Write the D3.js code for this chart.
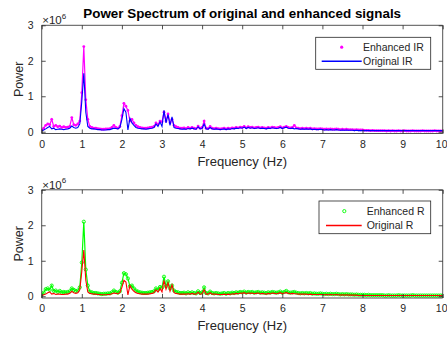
<!DOCTYPE html>
<html><head><meta charset="utf-8">
<script src="https://cdn.jsdelivr.net/npm/d3@7"></script>
<style>
body{margin:0;background:#fff}
svg{display:block;font-family:"Liberation Sans",Arial,sans-serif}
</style>
</head><body>
<script>
// Frequency grid (Hz), 0.05 Hz resolution from 0 to 10 Hz
const freq = d3.range(0, 201).map(i => +(i * 0.05).toFixed(2));

// Power values in units of 1e6
const enhancedIR = [
  0.05,0.10,0.18,0.22,0.20,0.35,0.15,0.18,0.14,0.16,
  0.12,0.14,0.12,0.13,0.15,0.40,0.20,0.18,0.22,0.30,
  1.10,2.40,0.90,0.35,0.15,0.12,0.10,0.10,0.09,0.08,
  0.07,0.07,0.08,0.08,0.09,0.12,0.18,0.12,0.10,0.15,
  0.45,0.80,0.72,0.60,0.30,0.35,0.25,0.18,0.14,0.12,
  0.11,0.10,0.10,0.11,0.12,0.13,0.15,0.25,0.20,0.30,
  0.28,0.55,0.30,0.50,0.25,0.35,0.18,0.14,0.12,0.10,
  0.10,0.11,0.09,0.12,0.10,0.12,0.10,0.09,0.16,0.10,
  0.12,0.30,0.10,0.09,0.15,0.10,0.09,0.10,0.09,0.08,
  0.09,0.10,0.08,0.10,0.09,0.11,0.10,0.12,0.11,0.13,
  0.12,0.15,0.11,0.14,0.12,0.13,0.11,0.12,0.13,0.11,
  0.12,0.11,0.10,0.12,0.11,0.13,0.12,0.11,0.12,0.14,
  0.11,0.13,0.15,0.12,0.11,0.12,0.18,0.11,0.10,0.09,
  0.10,0.09,0.10,0.09,0.10,0.08,0.09,0.08,0.08,0.09,
  0.08,0.07,0.08,0.07,0.08,0.07,0.07,0.08,0.07,0.06,
  0.07,0.06,0.07,0.06,0.06,0.06,0.05,0.06,0.05,0.05,
  0.05,0.04,0.04,0.04,0.03,0.04,0.03,0.03,0.03,0.03,
  0.03,0.03,0.02,0.03,0.02,0.03,0.02,0.02,0.03,0.02,
  0.02,0.03,0.02,0.02,0.02,0.03,0.02,0.02,0.02,0.02,
  0.03,0.02,0.02,0.02,0.02,0.02,0.03,0.02,0.02,0.02,
  0.02
];
const originalIR = [
  0.02,0.05,0.08,0.12,0.15,0.08,0.10,0.06,0.07,0.08,
  0.07,0.06,0.07,0.08,0.10,0.16,0.12,0.10,0.12,0.22,
  0.85,1.65,0.55,0.15,0.10,0.08,0.08,0.07,0.06,0.06,
  0.05,0.05,0.05,0.06,0.06,0.08,0.10,0.09,0.08,0.12,
  0.35,0.65,0.55,0.05,0.38,0.25,0.18,0.12,0.10,0.09,
  0.08,0.08,0.07,0.08,0.09,0.10,0.12,0.22,0.15,0.28,
  0.15,0.60,0.25,0.48,0.18,0.42,0.12,0.10,0.09,0.08,
  0.07,0.08,0.07,0.09,0.08,0.10,0.08,0.07,0.14,0.08,
  0.09,0.22,0.08,0.07,0.12,0.08,0.07,0.08,0.07,0.06,
  0.07,0.08,0.06,0.08,0.07,0.09,0.08,0.10,0.09,0.11,
  0.10,0.13,0.09,0.12,0.10,0.11,0.09,0.10,0.11,0.09,
  0.10,0.09,0.08,0.10,0.09,0.11,0.10,0.09,0.10,0.12,
  0.09,0.11,0.13,0.10,0.09,0.10,0.08,0.09,0.08,0.07,
  0.08,0.07,0.08,0.07,0.08,0.06,0.07,0.06,0.06,0.07,
  0.06,0.05,0.06,0.05,0.06,0.05,0.05,0.06,0.05,0.04,
  0.05,0.04,0.05,0.04,0.04,0.04,0.03,0.04,0.03,0.03,
  0.03,0.03,0.03,0.03,0.03,0.03,0.03,0.03,0.03,0.03,
  0.03,0.03,0.03,0.03,0.03,0.03,0.03,0.03,0.03,0.03,
  0.03,0.03,0.03,0.03,0.03,0.03,0.03,0.03,0.03,0.03,
  0.03,0.03,0.03,0.03,0.03,0.03,0.03,0.03,0.03,0.03,
  0.03
];
const enhancedR = [
  0.05,0.10,0.20,0.22,0.18,0.30,0.15,0.16,0.12,0.15,
  0.11,0.12,0.11,0.12,0.14,0.22,0.18,0.15,0.16,0.25,
  0.95,2.10,0.75,0.30,0.13,0.11,0.09,0.09,0.08,0.07,
  0.06,0.07,0.07,0.08,0.08,0.11,0.16,0.12,0.10,0.14,
  0.38,0.65,0.62,0.50,0.28,0.30,0.22,0.16,0.13,0.11,
  0.10,0.09,0.09,0.10,0.11,0.12,0.14,0.22,0.18,0.26,
  0.24,0.55,0.28,0.42,0.22,0.30,0.16,0.12,0.11,0.09,
  0.09,0.10,0.08,0.11,0.09,0.11,0.09,0.08,0.14,0.09,
  0.11,0.25,0.09,0.08,0.13,0.09,0.08,0.09,0.08,0.07,
  0.08,0.09,0.07,0.09,0.08,0.10,0.09,0.11,0.10,0.12,
  0.11,0.13,0.10,0.12,0.11,0.12,0.10,0.11,0.12,0.10,
  0.11,0.10,0.09,0.11,0.10,0.12,0.11,0.10,0.11,0.13,
  0.10,0.12,0.15,0.11,0.10,0.11,0.12,0.10,0.09,0.08,
  0.09,0.08,0.09,0.08,0.09,0.07,0.08,0.07,0.07,0.08,
  0.07,0.06,0.07,0.06,0.07,0.06,0.06,0.07,0.06,0.05,
  0.06,0.05,0.06,0.05,0.05,0.05,0.04,0.05,0.04,0.04,
  0.04,0.04,0.03,0.04,0.03,0.03,0.03,0.03,0.03,0.03,
  0.03,0.02,0.02,0.03,0.02,0.02,0.02,0.02,0.03,0.02,
  0.02,0.02,0.02,0.02,0.02,0.03,0.02,0.02,0.02,0.02,
  0.02,0.02,0.02,0.02,0.02,0.02,0.02,0.02,0.02,0.02,
  0.02
];
const originalR = [
  0.02,0.04,0.06,0.10,0.12,0.06,0.08,0.05,0.06,0.06,
  0.05,0.05,0.06,0.06,0.08,0.14,0.10,0.08,0.10,0.18,
  0.70,1.30,0.45,0.12,0.08,0.07,0.06,0.06,0.05,0.05,
  0.04,0.04,0.04,0.05,0.05,0.07,0.09,0.08,0.07,0.10,
  0.25,0.45,0.40,0.04,0.30,0.20,0.14,0.10,0.08,0.07,
  0.06,0.06,0.06,0.06,0.07,0.08,0.10,0.18,0.12,0.22,
  0.12,0.45,0.20,0.38,0.14,0.32,0.10,0.08,0.07,0.06,
  0.06,0.06,0.06,0.07,0.06,0.08,0.06,0.06,0.11,0.06,
  0.07,0.18,0.06,0.06,0.10,0.06,0.06,0.06,0.05,0.05,
  0.05,0.06,0.05,0.06,0.05,0.07,0.06,0.08,0.07,0.09,
  0.08,0.10,0.07,0.09,0.08,0.09,0.07,0.08,0.09,0.07,
  0.08,0.07,0.06,0.08,0.07,0.09,0.08,0.07,0.08,0.10,
  0.07,0.09,0.10,0.08,0.07,0.08,0.07,0.07,0.06,0.06,
  0.06,0.06,0.06,0.05,0.06,0.05,0.05,0.05,0.05,0.05,
  0.05,0.04,0.05,0.04,0.05,0.04,0.04,0.05,0.04,0.03,
  0.04,0.03,0.04,0.03,0.03,0.03,0.03,0.03,0.02,0.02,
  0.02,0.02,0.02,0.02,0.02,0.02,0.02,0.02,0.02,0.02,
  0.02,0.02,0.02,0.02,0.02,0.02,0.02,0.02,0.02,0.02,
  0.02,0.02,0.02,0.02,0.02,0.02,0.02,0.02,0.02,0.02,
  0.02,0.02,0.02,0.02,0.02,0.02,0.02,0.02,0.02,0.02,
  0.02
];

const xTicks = [0,1,2,3,4,5,6,7,8,9,10];
const yTicks = [0,1,2,3];
const titleText = "Power Spectrum of original and enhanced signals";

const W = 447, H = 339;
const ink = "#262626";
const svg = d3.select("body").append("svg").attr("width", W).attr("height", H);

const x = d3.scaleLinear().domain([0, 10]).range([41.7, 442.7]);

function panel(cfg) {
  const y = d3.scaleLinear().domain([-0.05, 3]).range([cfg.bottom, cfg.top]);
  const g = svg.append("g");
  const clipId = "clip" + cfg.id;
  svg.append("clipPath").attr("id", clipId).append("rect")
    .attr("x", x(0)).attr("y", cfg.top).attr("width", x(10) - x(0)).attr("height", cfg.bottom - cfg.top);

  const plot = g.append("g").attr("clip-path", `url(#${clipId})`);
  const line = d3.line().x((d, i) => x(freq[i])).y(d => y(d));

  // enhanced spectrum: dense markers
  plot.append("path").datum(cfg.enh).attr("d", line)
    .attr("fill", "none").attr("stroke", cfg.enhColor).attr("stroke-width", 1.2);
  if (cfg.marker === "dot") {
    plot.append("g").selectAll("circle").data(cfg.enh).join("circle")
      .attr("cx", (d, i) => x(freq[i])).attr("cy", d => y(d)).attr("r", 1.4)
      .attr("fill", cfg.enhColor);
  } else {
    plot.append("g").selectAll("circle").data(cfg.enh).join("circle")
      .attr("cx", (d, i) => x(freq[i])).attr("cy", d => y(d)).attr("r", 1.6)
      .attr("fill", "none").attr("stroke", cfg.enhColor).attr("stroke-width", 0.9);
  }
  // original spectrum: solid line
  plot.append("path").datum(cfg.orig).attr("d", line)
    .attr("fill", "none").attr("stroke", cfg.origColor).attr("stroke-width", 1.1);

  // axes with inward ticks on all four sides
  const tl = 4;
  const axB = g.append("g").attr("transform", `translate(0,${cfg.bottom})`)
    .call(d3.axisBottom(x).tickValues(xTicks).tickSize(-tl).tickPadding(7).tickFormat(d3.format("d")));
  const axT = g.append("g").attr("transform", `translate(0,${cfg.top})`)
    .call(d3.axisTop(x).tickValues(xTicks).tickSize(-tl).tickFormat(""));
  const axL = g.append("g").attr("transform", `translate(${x(0)},0)`)
    .call(d3.axisLeft(y).tickValues(yTicks).tickSize(-tl).tickPadding(8).tickFormat(d3.format("d")));
  const axR = g.append("g").attr("transform", `translate(${x(10)},0)`)
    .call(d3.axisRight(y).tickValues(yTicks).tickSize(-tl).tickFormat(""));
  [axB, axT, axL, axR].forEach(a => {
    a.select(".domain").attr("stroke", ink).attr("stroke-width", 0.8);
    a.selectAll(".tick line").attr("stroke", ink).attr("stroke-width", 0.8);
    a.selectAll(".tick text").attr("fill", ink).attr("font-size", 10.5)
      .attr("font-family", '"Liberation Sans",Arial,sans-serif');
  });
  // the rightmost label sits against the window edge
  axB.selectAll(".tick text").filter(d => d === 10).attr("x", -1.5);
  // box edges over the full extent
  axB.select(".domain").attr("d", `M${x(0)},0H${x(10)}`);
  axT.select(".domain").attr("d", `M${x(0)},0H${x(10)}`);
  axL.select(".domain").attr("d", `M0,${cfg.top}V${cfg.bottom}`);
  axR.select(".domain").attr("d", `M0,${cfg.top}V${cfg.bottom}`);

  // exponent label
  const ex = g.append("text").attr("x", x(0) + 0.5).attr("y", cfg.top - 1)
    .attr("fill", ink).attr("font-size", 11.5);
  ex.append("tspan").text("\u00d710");
  ex.append("tspan").attr("dy", -5.5).attr("font-size", 8).text("6");

  // axis labels
  g.append("text").attr("x", (x(0) + x(10)) / 2).attr("y", cfg.bottom + 32)
    .attr("text-anchor", "middle").attr("fill", ink).attr("font-size", 13)
    .text("Frequency (Hz)");
  g.append("text")
    .attr("transform", `translate(23,${(cfg.top + cfg.bottom) / 2}) rotate(-90)`)
    .attr("text-anchor", "middle").attr("fill", ink).attr("font-size", 12.5)
    .text("Power");

  // legend
  const L = cfg.legend;
  const lg = g.append("g");
  lg.append("rect").attr("x", L.x0).attr("y", L.y0).attr("width", L.x1 - L.x0).attr("height", L.y1 - L.y0)
    .attr("fill", "#fff").attr("stroke", ink).attr("stroke-width", 0.8);
  const r1 = L.y0 + (L.y1 - L.y0) * 0.31, r2 = L.y0 + (L.y1 - L.y0) * 0.75;
  if (cfg.marker === "dot") {
    lg.append("circle").attr("cx", L.mx).attr("cy", r1).attr("r", 1.6).attr("fill", cfg.enhColor);
  } else {
    lg.append("circle").attr("cx", L.mx).attr("cy", r1).attr("r", 1.6)
      .attr("fill", "none").attr("stroke", cfg.enhColor).attr("stroke-width", 0.9);
  }
  lg.append("line").attr("x1", L.lx0).attr("x2", L.lx1).attr("y1", r2).attr("y2", r2)
    .attr("stroke", cfg.origColor).attr("stroke-width", 1.4);
  lg.append("text").attr("x", L.tx).attr("y", r1).attr("dy", "0.35em")
    .attr("fill", ink).attr("font-size", 10.5).text(cfg.enhLabel);
  lg.append("text").attr("x", L.tx).attr("y", r2).attr("dy", "0.35em")
    .attr("fill", ink).attr("font-size", 10.5).text(cfg.origLabel);
  return g;
}

panel({
  id: 1, top: 25.3, bottom: 133.5,
  enh: enhancedIR, orig: originalIR, enhColor: "#ff00ff", origColor: "#0000ff",
  marker: "dot", enhLabel: "Enhanced IR", origLabel: "Original IR",
  legend: {x0: 315.7, x1: 430.7, y0: 37.3, y1: 69.3, mx: 341.7, lx0: 321.7, lx1: 361.7, tx: 363}
});
panel({
  id: 2, top: 189.8, bottom: 298,
  enh: enhancedR, orig: originalR, enhColor: "#00ff00", origColor: "#ff0000",
  marker: "circle", enhLabel: "Enhanced R", origLabel: "Original R",
  legend: {x0: 319, x1: 430.7, y0: 201, y1: 233.7, mx: 344.3, lx0: 326, lx1: 361.7, tx: 366.7}
});

svg.append("text").attr("x", (x(0) + x(10)) / 2).attr("y", 18.3)
  .attr("text-anchor", "middle").attr("fill", "#000").attr("font-size", 13.4)
  .attr("font-weight", "bold").text(titleText);
</script>
</body></html>
